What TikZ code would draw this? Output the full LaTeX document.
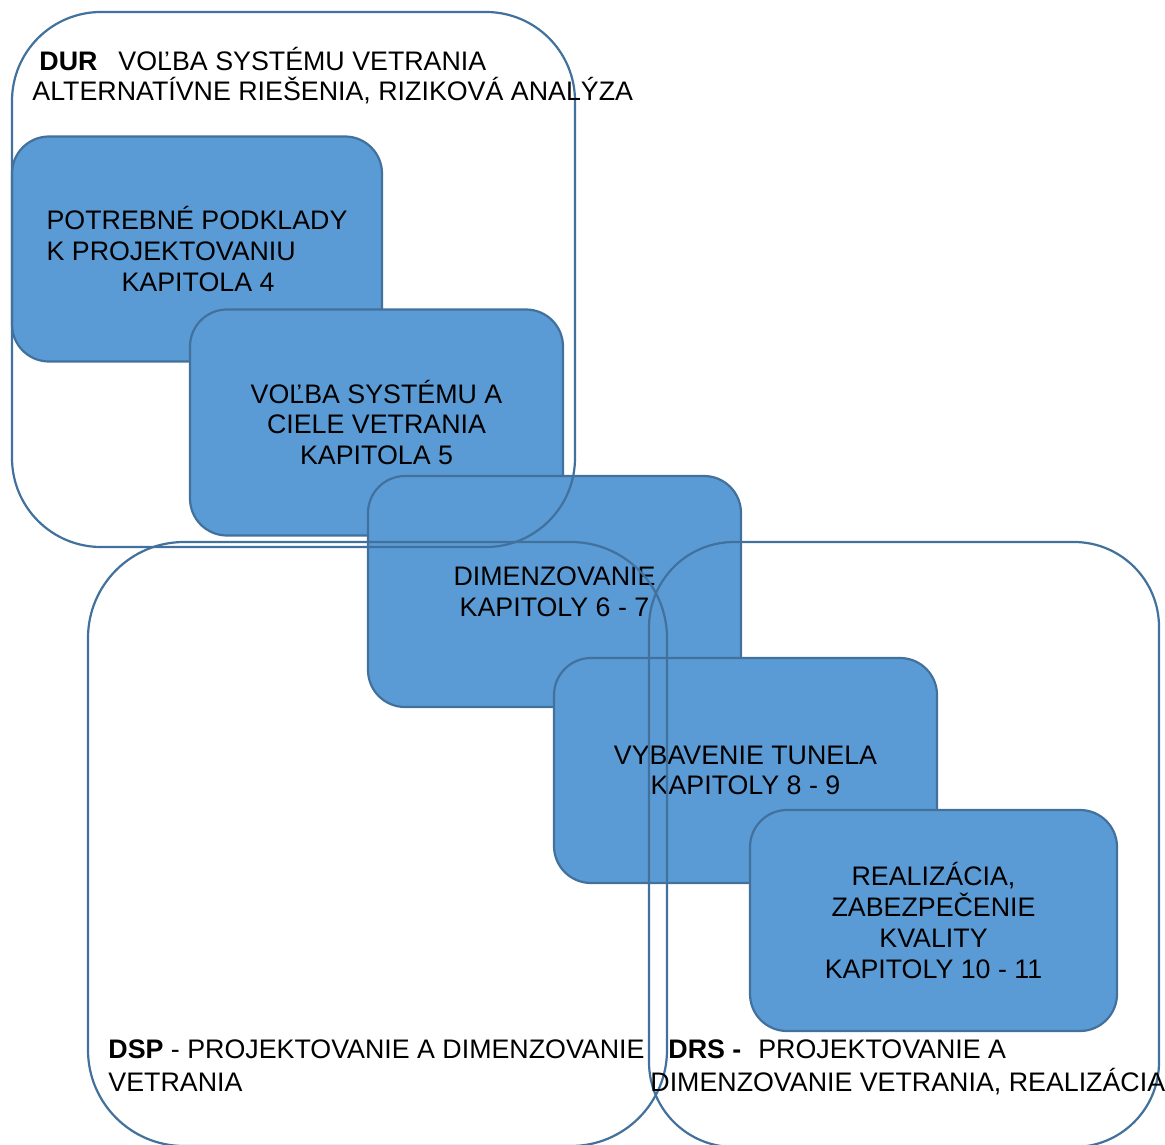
\documentclass[tikz,border=0pt]{standalone}
\usepackage{fontspec}
\setmainfont{Liberation Sans}
\definecolor{boxfill}{HTML}{5B9BD5}
\definecolor{boxline}{HTML}{41719C}
\tikzset{
  stagebox/.style={draw=boxline, fill=boxfill, line width=1.1pt, rectangle,
    rounded corners=18.5pt, inner sep=0pt, align=center,
    font=\fontsize{13.4}{15.4}\selectfont},
  phasebox/.style={draw=boxline, line width=1.1pt, rectangle, inner sep=0pt},
  lbl/.style={inner sep=0pt, anchor=base west, font=\fontsize{13.4}{15.4}\selectfont},
}
\begin{document}
\begin{tikzpicture}[x=0.5pt, y=-0.5pt]
\clip (0,0) rectangle (1165,1144);
\fill[white] (0,0) rectangle (1165,1144);
% filled stage boxes
\node[stagebox, minimum width=185pt, minimum height=112.5pt, align=left] (b1) at (197,249)
  {POTREBNÉ PODKLADY\\K PROJEKTOVANIU\\\hspace*{37.5pt}KAPITOLA 4};
\node[stagebox, minimum width=186.5pt, minimum height=113pt] (b2) at (376.5,422.5)
  {VOĽBA SYSTÉMU A\\CIELE VETRANIA\\KAPITOLA 5};
\node[stagebox, minimum width=186.5pt, minimum height=115.5pt] (b3) at (554.5,591.5)
  {DIMENZOVANIE\\KAPITOLY 6 - 7};
\node[stagebox, minimum width=191.5pt, minimum height=112.5pt] (b4) at (745.5,770.5)
  {VYBAVENIE TUNELA\\KAPITOLY 8 - 9};
\node[stagebox, minimum width=183.5pt, minimum height=110.5pt] (b5) at (933.5,920.5)
  {REALIZÁCIA,\\ZABEZPEČENIE\\KVALITY\\KAPITOLY 10 - 11};
% phase outlines
\node[phasebox, minimum width=281.5pt, minimum height=267.5pt, rounded corners=44.5pt] (dur) at (293.5,279.5) {};
\node[phasebox, minimum width=289.5pt, minimum height=302pt, rounded corners=48pt] (dsp) at (377.5,844) {};
\node[phasebox, minimum width=255pt, minimum height=302.5pt, rounded corners=42.5pt] (drs) at (904,844.5) {};
% phase labels
\node[lbl] (durA) at (39,70.5) {\textbf{DUR}\hspace{10.5pt}VOĽBA SYSTÉMU VETRANIA};
\node[lbl] (durB) at (32,101) {ALTERNATÍVNE RIEŠENIA, RIZIKOVÁ ANALÝZA};
\node[lbl] (dspA) at (108,1058.5) {\textbf{DSP} - PROJEKTOVANIE A DIMENZOVANIE};
\node[lbl] (dspB) at (108,1091.5) {VETRANIA};
\node[lbl] (drsA) at (668,1058.5) {\textbf{DRS -}\hspace{8.5pt}PROJEKTOVANIE A};
\node[lbl] (drsB) at (650,1091.5) {DIMENZOVANIE VETRANIA, REALIZÁCIA};
\end{tikzpicture}
\end{document}
